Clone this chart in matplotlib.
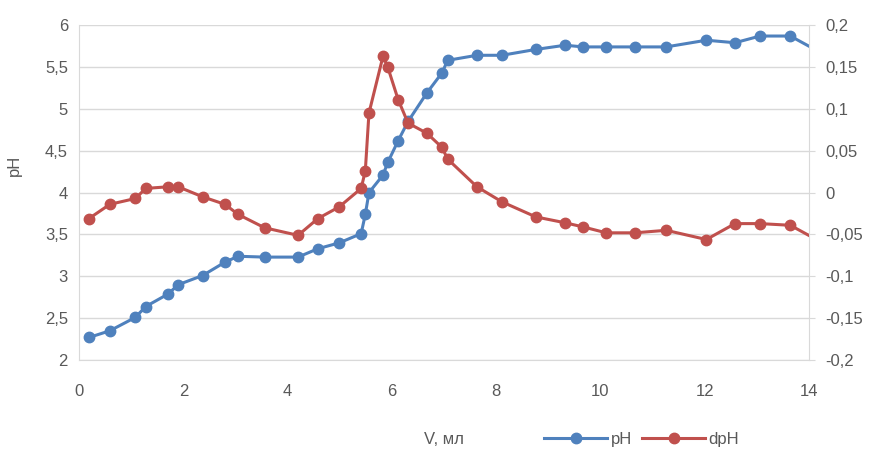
import matplotlib.pyplot as plt
from matplotlib.ticker import FuncFormatter

plt.rcParams["font.family"] = ["Liberation Sans Narrow", "Liberation Sans", "DejaVu Sans"]

# titration data
volume = [0.19, 0.59, 1.08, 1.28, 1.71, 1.90, 2.37, 2.80, 3.05, 3.56, 4.20,
          4.58, 4.99, 5.41, 5.49, 5.56, 5.83, 5.92, 6.12, 6.31, 6.67, 6.96,
          7.07, 7.63, 8.11, 8.76, 9.32, 9.67, 10.11, 10.66, 11.26, 12.03,
          12.58, 13.06, 13.64, 14.20]

ph = [2.27, 2.35, 2.51, 2.64, 2.79, 2.90, 3.01, 3.17, 3.24, 3.23, 3.23,
      3.33, 3.40, 3.51, 3.74, 4.00, 4.21, 4.36, 4.62, 4.85, 5.19, 5.43,
      5.58, 5.64, 5.64, 5.71, 5.76, 5.74, 5.74, 5.74, 5.74, 5.82,
      5.79, 5.87, 5.87, 5.68]

dph = [-0.031, -0.014, -0.007, 0.005, 0.007, 0.007, -0.005, -0.014, -0.026,
       -0.042, -0.051, -0.031, -0.017, 0.005, 0.026, 0.095, 0.163, 0.150,
       0.111, 0.083, 0.071, 0.054, 0.040, 0.007, -0.011, -0.029, -0.036,
       -0.041, -0.048, -0.048, -0.045, -0.056, -0.037, -0.037, -0.039,
       -0.058]

x_ticks = [0, 2, 4, 6, 8, 10, 12, 14]
ph_ticks = [2, 2.5, 3, 3.5, 4, 4.5, 5, 5.5, 6]
dph_ticks = [-0.2, -0.15, -0.1, -0.05, 0, 0.05, 0.1, 0.15, 0.2]

blue = "#4f81bd"
red = "#c0504d"
text_color = "#595959"
grid_color = "#d9d9d9"


def comma(v, pos):
    s = "%g" % round(v, 3)
    return s.replace(".", ",")


fig = plt.figure(figsize=(8.85, 4.49), dpi=100)
ax = fig.add_axes([0.0893, 0.198, 0.8249, 0.746])
ax2 = ax.twinx()

ax.plot(volume, ph, color=blue, lw=2.2, marker="o", ms=7.5, label="pH",
        zorder=3)
ax2.plot(volume, dph, color=red, lw=2.2, marker="o", ms=7.5, label="dpH",
         zorder=3)

ax.set_xlim(0, 14)
ax.set_ylim(2, 6)
ax2.set_ylim(-0.2, 0.2)

ax.set_xticks(x_ticks)
ax.set_yticks(ph_ticks)
ax2.set_yticks(dph_ticks)
ax.yaxis.set_major_formatter(FuncFormatter(comma))
ax2.yaxis.set_major_formatter(FuncFormatter(comma))

ax.grid(axis="y", color=grid_color, lw=1)
ax.set_axisbelow(True)

for a in (ax, ax2):
    for side in a.spines:
        a.spines[side].set_visible(False)
    a.tick_params(labelsize=12, colors=text_color)

ax.spines["bottom"].set_visible(True)
ax.spines["bottom"].set_color(grid_color)
ax.spines["left"].set_visible(True)
ax.spines["left"].set_color(grid_color)
ax2.spines["right"].set_visible(True)
ax2.spines["right"].set_color(grid_color)

ax.tick_params(axis="x", length=0, pad=17)
ax.tick_params(axis="y", length=0, pad=8)
ax2.tick_params(axis="y", length=4, color=grid_color, pad=8)

ax.set_xlabel("V, мл", fontsize=12, color=text_color, labelpad=24)
ax.set_ylabel("pH", fontsize=12, color=text_color)
ax.yaxis.set_label_coords(-0.078, 0.58)

h1, l1 = ax.get_legend_handles_labels()
h2, l2 = ax2.get_legend_handles_labels()
fig.legend(h1 + h2, l1 + l2, loc="center", bbox_to_anchor=(0.725, 0.022),
           ncol=2, frameon=False, fontsize=12, handlelength=3.8,
           columnspacing=0.6, handletextpad=0.2, labelcolor=text_color)

plt.savefig("out.png", dpi=100)
plt.close()
